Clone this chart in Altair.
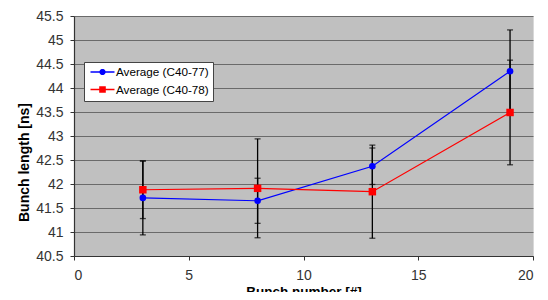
import math
import altair as alt
import pandas as pd

# ---- data ----
series_names = ["Average (C40-77)", "Average (C40-78)"]
series_colors = ["#0000FF", "#FF0000"]
series_shapes = ["circle", "square"]
x_vals = [3, 8, 13, 19]
blue_mean = [41.71, 41.65, 42.37, 44.35]
blue_err = [0.77, 0.47, 0.38, 0.86]
red_mean = [41.88, 41.91, 41.84, 43.49]
red_err = [0.60, 1.03, 0.97, 1.09]
y_ticks = [40.5, 41, 41.5, 42, 42.5, 43, 43.5, 44, 44.5, 45, 45.5]
x_ticks = [0, 5, 10, 15, 20]

rows = []
for name, means, errs in zip(series_names, [blue_mean, red_mean], [blue_err, red_err]):
    for x, m, e in zip(x_vals, means, errs):
        rows.append({"series": name, "x": x, "y": m, "lo": m - e, "hi": m + e})
df = pd.DataFrame(rows)

FONT = "Liberation Sans"

xscale = alt.Scale(domain=[0, 20], nice=False, zero=False)
yscale = alt.Scale(domain=[40.5, 45.5], nice=False, zero=False)
xaxis = alt.Axis(values=x_ticks, title="Bunch number [#]", grid=False,
                 titleY=28, titleBaseline="top", titleFontSize=13.5, labelPadding=8)
yaxis = alt.Axis(values=y_ticks, format="~g", title="Bunch length [ns]",
                 titleX=-43, titleY=146, labelOverlap=False)

X = alt.X("x:Q", scale=xscale, axis=xaxis)
Ymean = alt.Y("y:Q", scale=yscale, axis=yaxis)
Ylo = alt.Y("lo:Q", scale=yscale, axis=yaxis)
Yhi = alt.Y("hi:Q", scale=yscale, axis=yaxis)

base = alt.Chart(df)

layers = []
for name, col in zip(series_names, series_colors):
    layers.append(base.transform_filter(alt.datum.series == name)
                  .mark_line(strokeWidth=1.2, color=col).encode(x=X, y=Ymean))

layers.append(base.mark_rule(color="black", strokeWidth=1.3).encode(x=X, y=Ylo, y2="hi:Q"))
layers.append(base.mark_tick(color="black", orient="horizontal", size=6, thickness=1.3).encode(x=X, y=Ylo))
layers.append(base.mark_tick(color="black", orient="horizontal", size=6, thickness=1.3).encode(x=X, y=Yhi))

for name, col, shp, sz in zip(series_names, series_colors, series_shapes, [44, 56]):
    layers.append(base.transform_filter(alt.datum.series == name)
                  .mark_point(filled=True, opacity=1, shape=shp, size=sz, color=col)
                  .encode(x=X, y=Ymean))

# legend glyphs: a short line with the marker on it (unit = 6px, centre at 6px in entry)
x0, x1, mx = -0.583, 3.417, 1.417
bar = f"M{x0},-0.125L{x1},-0.125L{x1},0.125L{x0},0.125Z"
r = 0.52
poly = "".join(
    ("M" if i == 0 else "L") + f"{mx + r*math.cos(2*math.pi*i/20):.3f},{r*math.sin(2*math.pi*i/20):.3f}"
    for i in range(20)
) + "Z"
circle_path = bar + poly
s = 0.55
square_path = bar + f"M{mx-s:.3f},{-s}L{mx+s:.3f},{-s}L{mx+s:.3f},{s}L{mx-s:.3f},{s}Z"

leg = alt.Legend(title=None, orient="none", legendX=10, legendY=46)
layers.append(base.mark_point(filled=True, opacity=0).encode(
    x=X, y=Ymean,
    color=alt.Color("series:N", scale=alt.Scale(domain=series_names, range=series_colors), legend=leg),
    shape=alt.Shape("series:N", scale=alt.Scale(domain=series_names, range=[circle_path, square_path]),
                    legend=leg),
))

chart = alt.layer(*layers).properties(
    width=459, height=240,
    autosize=alt.AutoSizeParams(type="none"),
    padding={"left": 66, "top": 8, "right": 7, "bottom": 36},
).configure_view(
    fill="#C0C0C0", stroke="#D8D8D8", strokeWidth=1
).configure_axis(
    labelFont=FONT, labelFontSize=14, labelColor="#333333",
    titleFont=FONT, titleFontSize=14, titleFontWeight="bold", titleColor="#000000",
    domainColor="#333333", domainWidth=1.2, tickColor="#333333", tickSize=4,
    labelPadding=7, gridColor="#6A6A6A", gridWidth=1,
).configure_legend(
    labelFont=FONT, labelFontSize=11.7, labelColor="#000000",
    symbolSize=144, symbolStrokeWidth=0, symbolOpacity=1, labelOffset=16,
    padding=4, rowPadding=4.5, strokeColor="#444444", fillColor="#FFFFFF",
    cornerRadius=0,
)

chart.save("out.html", embed_options={"renderer": "svg", "actions": False})
